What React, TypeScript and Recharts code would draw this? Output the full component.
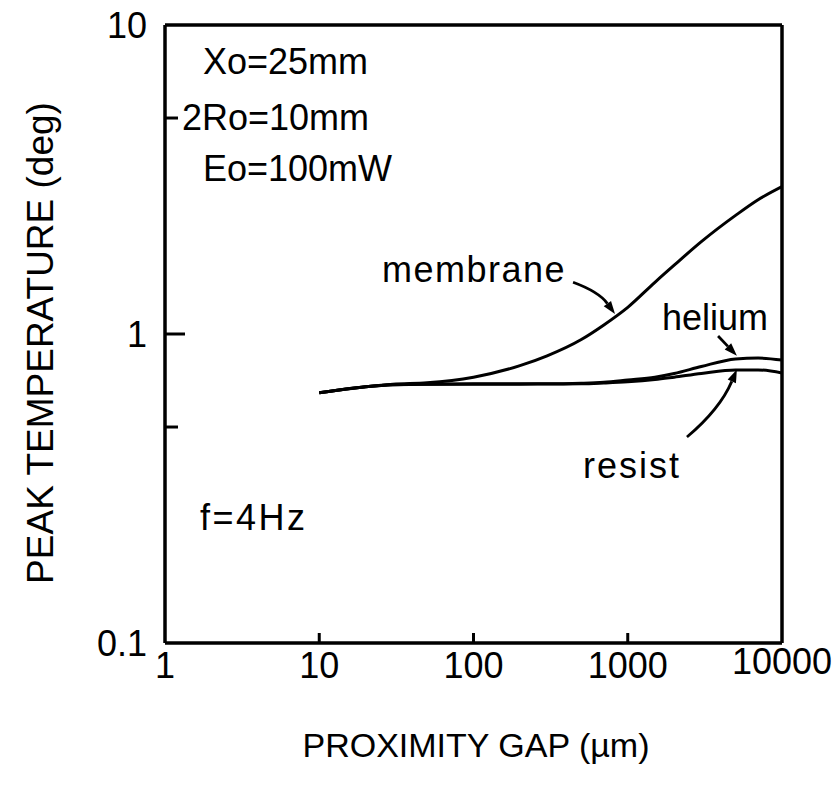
import React from 'react'
import {LineChart, Line, XAxis, YAxis, ReferenceLine} from 'recharts'

// proximity gap (um) and peak temperature (deg)
const gap = [10, 20, 30, 50, 100, 200, 300, 500, 700, 1000, 1500, 2000, 3000, 5000, 7000, 10000]
const membrane = [0.645, 0.675, 0.688, 0.695, 0.725, 0.79, 0.85, 0.96, 1.07, 1.22, 1.47, 1.67, 1.99, 2.42, 2.72, 3.0]
const helium = [0.645, 0.675, 0.685, 0.688, 0.69, 0.69, 0.69, 0.693, 0.698, 0.71, 0.725, 0.745, 0.785, 0.83, 0.836, 0.824]
const resist = [0.645, 0.675, 0.685, 0.688, 0.688, 0.688, 0.689, 0.69, 0.694, 0.70, 0.712, 0.725, 0.745, 0.765, 0.765, 0.748]

const gapTicks = [1, 10, 100, 1000, 10000]
const tempTicks = [0.1, 0.5, 1, 5, 10]
const tempLabelled = [0.1, 1, 10]

// annotation arrows: [fromGap, fromTemp, toGap, toTemp, bend]
const arrows = [
  [442, 1.47, 827, 1.16, -8],
  [3850, 0.985, 5100, 0.85, 0],
  [2420, 0.464, 5100, 0.768, 10],
]

const rows = gap.map((g, i) => ({gap: g, membrane: membrane[i], helium: helium[i], resist: resist[i]}))

const FONT = '"Liberation Sans", Arial, Helvetica, sans-serif'

const XTick = (p: any) => {
  const {x, y, payload} = p
  const axisY = y - 10
  const v = payload.value
  return (
    <g>
      {v > 1 && v < 10000 && <line x1={x} x2={x} y1={axisY} y2={axisY - 10} stroke="#000" strokeWidth={3} />}
      <text x={x} y={v === 10000 ? y + 21 : y + 25} textAnchor="middle" fontSize={36} fontFamily={FONT} fill="#000">{v}</text>
    </g>
  )
}

const YTick = (p: any) => {
  const {x, y, payload} = p
  const axisX = x + 18
  const v = payload.value
  const len = v === 1 ? 20 : (v === 5 || v === 0.5) ? 13 : 0
  return (
    <g>
      {len > 0 && <line x1={axisX} x2={axisX + len} y1={y} y2={y} stroke="#000" strokeWidth={3} />}
      {tempLabelled.includes(v) && (
        <text x={x} y={y + 13} textAnchor="end" fontSize={36} fontFamily={FONT} fill="#000">{v}</text>
      )}
    </g>
  )
}

const arrowShape = (bend: number) => (p: any) => {
  const {x1, y1, x2, y2} = p
  if (x1 == null || x2 == null) return <g />
  const dx = x2 - x1, dy = y2 - y1
  const len = Math.hypot(dx, dy) || 1
  const cx = (x1 + x2) / 2 - (dy / len) * bend
  const cy = (y1 + y2) / 2 + (dx / len) * bend
  const a = Math.atan2(y2 - cy, x2 - cx)
  const hl = 13, hw = 4.5
  const bx = x2 - hl * Math.cos(a), by = y2 - hl * Math.sin(a)
  const pts = `${x2},${y2} ${bx - hw * Math.sin(a)},${by + hw * Math.cos(a)} ${bx + hw * Math.sin(a)},${by - hw * Math.cos(a)}`
  return (
    <g>
      <path d={`M${x1},${y1} Q${cx},${cy} ${bx},${by}`} fill="none" stroke="#000" strokeWidth={2.8} />
      <polygon points={pts} fill="#000" />
    </g>
  )
}

const textStyle = {fontSize: 36, fontFamily: FONT, fill: '#000'}

export default function App() {
  return (
    <div style={{position: 'absolute', left: 0, top: 0, background: '#fff'}}>
      <LineChart width={836} height={790} data={rows} margin={{top: 25, right: 54, bottom: 87, left: 105}}>
        <XAxis dataKey="gap" type="number" scale="log" domain={[1, 10000]} ticks={gapTicks} allowDataOverflow
          interval={0} height={60} tickLine={false} tickSize={0} tickMargin={10}
          axisLine={{stroke: '#000', strokeWidth: 3.5}} tick={XTick} />
        <YAxis type="number" scale="log" domain={[0.1, 10]} ticks={tempTicks} allowDataOverflow
          interval={0} width={60} tickLine={false} tickSize={0} tickMargin={18}
          axisLine={{stroke: '#000', strokeWidth: 3.5}} tick={YTick} />
        <ReferenceLine x={10000} stroke="#000" strokeWidth={3.5} />
        <ReferenceLine y={10} stroke="#000" strokeWidth={3.5} />
        <Line dataKey="membrane" type="monotone" stroke="#000" strokeWidth={3} dot={false} isAnimationActive={false} />
        <Line dataKey="helium" type="monotone" stroke="#000" strokeWidth={3} dot={false} isAnimationActive={false} />
        <Line dataKey="resist" type="monotone" stroke="#000" strokeWidth={3} dot={false} isAnimationActive={false} />
        {arrows.map((a, i) => (
          <ReferenceLine key={i} segment={[{x: a[0], y: a[1]}, {x: a[2], y: a[3]}]} ifOverflow="visible"
            shape={arrowShape(a[4])} />
        ))}
        <text x={203} y={74} {...textStyle}>Xo=25mm</text>
        <text x={182} y={130} {...textStyle}>2Ro=10mm</text>
        <text x={203} y={181} {...textStyle}>Eo=100mW</text>
        <text x={200} y={530} {...textStyle} letterSpacing={2.5}>f=4Hz</text>
        <text x={382} y={282} {...textStyle} letterSpacing={1.5}>membrane</text>
        <text x={662} y={330} {...textStyle}>helium</text>
        <text x={583} y={478} {...textStyle} letterSpacing={2}>resist</text>
        <text x={476} y={757} textAnchor="middle" fontSize={34} fontFamily={FONT} fill="#000">PROXIMITY GAP (µm)</text>
        <text x={53} y={343} textAnchor="middle" fontSize={37} fontFamily={FONT} fill="#000"
          transform="rotate(-90 53 343)">PEAK TEMPERATURE (deg)</text>
      </LineChart>
    </div>
  )
}
